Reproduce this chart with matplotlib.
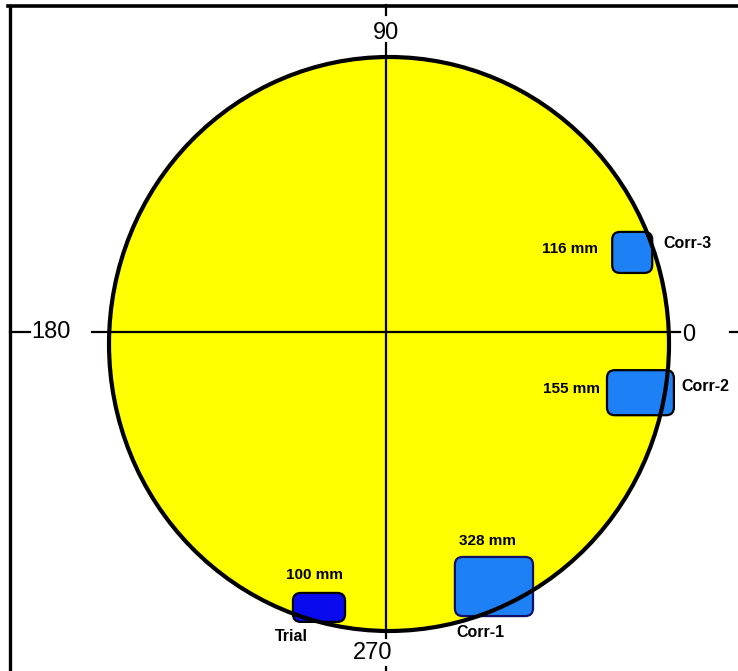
import numpy as np
import matplotlib
matplotlib.use("Agg")
import matplotlib.pyplot as plt
from matplotlib.patches import Ellipse, FancyBboxPatch
from matplotlib.lines import Line2D

# ---------------- data ----------------
names = ["Corr-3", "Corr-2", "Corr-1", "Trial"]
lengths_mm = [116, 155, 328, 100]
angle_deg = [17.5, 346.9, 293.5, 256.0]     # clock position of each defect
radial = [0.922, 0.933, 0.967, 0.989]        # radial fraction of pipe radius
extent_w = [0.143, 0.239, 0.279, 0.186]      # box extent (radius units)
extent_h = [0.143, 0.157, 0.206, 0.101]
axis_labels = ["0", "90", "180", "270"]

# ---------------- style ----------------
W, H, DPI = 738, 671, 100
SX, SY = 280.0, 287.0           # pixels per unit radius
OX, OY = 386.0, 332.0           # pixel position of origin
box_colors = ["#1E80F5", "#1E80F5", "#1E80F5", "#0A0AEE"]
box_edges = ["black", "black", "#10106A", "black"]
font = "Liberation Sans"

fig = plt.figure(figsize=(W / DPI, H / DPI), dpi=DPI)
ax = fig.add_axes([0, 0, 1, 1])
ax.set_xlim(-OX / SX, (W - OX) / SX)
ax.set_ylim(-(H - OY) / SY, OY / SY)
ax.axis("off")

def px2x(px):
    return (px - OX) / SX

def py2y(py):
    return (OY - py) / SY

# pipe circle
cx, cy = px2x(389), py2y(344)
ax.add_patch(Ellipse((cx, cy), 2.0, 2.0, facecolor="#FFFF00", edgecolor="none", zorder=1))
ax.add_patch(Ellipse((cx, cy), 2.0, 2.0, facecolor="none", edgecolor="black", lw=3.0, zorder=5))

# crosshair lines
lw_axis = 1.6
ax.plot([px2x(92), px2x(680)], [0, 0], color="black", lw=lw_axis, zorder=2)
ax.plot([px2x(10), px2x(30)], [0, 0], color="black", lw=lw_axis, zorder=2)
ax.plot([px2x(730), px2x(740)], [0, 0], color="black", lw=lw_axis, zorder=2)
ax.plot([0, 0], [py2y(43), py2y(638)], color="black", lw=lw_axis, zorder=2)
ax.plot([0, 0], [py2y(5), py2y(15)], color="black", lw=lw_axis, zorder=2)
ax.plot([0, 0], [py2y(667), py2y(672)], color="black", lw=lw_axis, zorder=2)

# axis labels
lab_kw = dict(fontsize=17, family=font, ha="center", va="center", zorder=6)
ax.text(px2x(689), py2y(335), axis_labels[0], **lab_kw)
ax.text(px2x(386), py2y(33), axis_labels[1], **lab_kw)
ax.text(px2x(51), py2y(332), axis_labels[2], **lab_kw)
ax.text(px2x(373), py2y(653), axis_labels[3], **lab_kw)

# label placement offsets (pixels): (mm dx, mm dy, mm ha, name dx, name dy, name ha)
placement = [
    (-34, 3.5, "right", 31, 8.5, "left"),
    (-40.5, 3.5, "right", 40.5, 6.5, "left"),
    (-6, 45.5, "center", -14, -45.5, "center"),
    (-5, 32.5, "center", -28, -29.5, "center"),
]

txt_kw = dict(family=font, fontweight="bold", va="center",
              textcoords="offset pixels", zorder=6)
for i, name in enumerate(names):
    a = np.deg2rad(angle_deg[i])
    x = radial[i] * np.cos(a)
    y = radial[i] * np.sin(a)
    w, h = extent_w[i], extent_h[i]
    ax.add_patch(FancyBboxPatch((x - w / 2, y - h / 2), w, h,
                                boxstyle="round,pad=0,rounding_size=0.028",
                                facecolor=box_colors[i], edgecolor=box_edges[i],
                                lw=1.6, zorder=3, mutation_aspect=SX / SY))
    mdx, mdy, mha, ndx, ndy, nha = placement[i]
    ax.annotate(f"{lengths_mm[i]} mm", (x, y), xytext=(mdx, mdy), ha=mha,
                fontsize=11, **txt_kw)
    ax.annotate(name, (x, y), xytext=(ndx, ndy), ha=nha, fontsize=11.5, **txt_kw)

# frame lines (top and left)
fig.add_artist(Line2D([8 / W, 1], [1 - 5.7 / H, 1 - 5.7 / H], color="black", lw=2.6,
                      transform=fig.transFigure))
fig.add_artist(Line2D([10 / W, 10 / W], [0, 1 - 5.7 / H], color="black", lw=2.4,
                      transform=fig.transFigure))

fig.savefig("out.png", dpi=DPI)
